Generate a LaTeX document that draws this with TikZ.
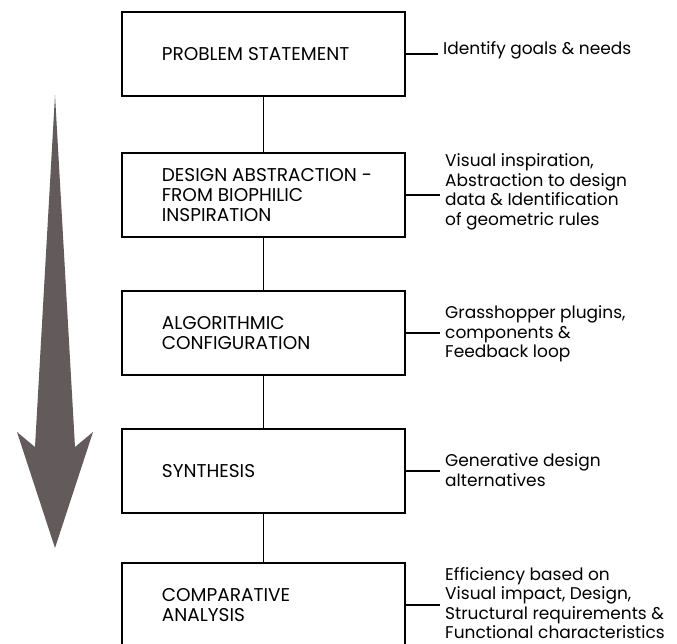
\documentclass[tikz,border=0pt]{standalone}
\usepackage{fontspec}
\setmainfont{Poppins}
\definecolor{arrowgrey}{HTML}{625A5B}
\tikzset{
  stage/.style={draw=black, line width=1.8pt, rectangle, minimum width=283pt, minimum height=84pt,
    text width=203pt, inner xsep=40pt, inner ysep=0pt, align=flush left, anchor=north west,
    font=\fontsize{18.5}{20}\selectfont},
  note/.style={anchor=west, align=left, inner xsep=5pt, inner ysep=0pt,
    font=\fontsize{17}{19.5}\selectfont},
  link/.style={draw=black, line width=1.3pt}
}
\begin{document}
\begin{tikzpicture}[x=1pt,y=-1pt]
\useasboundingbox (0,0) rectangle (677,644);
\clip (0,0) rectangle (677,644);
\fill[arrowgrey] (55,95) -- (75,447) -- (93,432) -- (55,548) -- (17,432) -- (35,447) -- cycle;
\node[stage] (b1) at (121,11) {\mbox{PROBLEM STATEMENT}};
\node[stage] (b2) at (121,152) {\mbox{DESIGN ABSTRACTION -}\\\mbox{FROM BIOPHILIC}\\INSPIRATION};
\node[stage] (b3) at (121,290) {ALGORITHMIC\\CONFIGURATION};
\node[stage] (b4) at (121,428) {SYNTHESIS};
\node[stage] (b5) at (121,562) {COMPARATIVE\\ANALYSIS};
\node[note] (n1) at (438,50) {Identify goals \& needs};
\node[note] (n2) at (440,192) {Visual inspiration,\\Abstraction to design\\data \& Identification\\of geometric rules};
\node[note] (n3) at (440,334) {Grasshopper plugins,\\components \&\\Feedback loop};
\node[note] (n4) at (440,470) {Generative design\\alternatives};
\node[note] (n5) at (440,603) {Efficiency based on\\Visual impact, Design,\\Structural requirements \&\\Functional characteristics};
\draw[link] (b1.south) -- (b2.north);
\draw[link] (b2.south) -- (b3.north);
\draw[link] (b3.south) -- (b4.north);
\draw[link] (b4.south) -- (b5.north);
\draw[link] (b1.east) -- (b1.east -| n1.west);
\draw[link] (b2.east) -- (b2.east -| n2.west);
\draw[link] (b3.east) -- (b3.east -| n3.west);
\draw[link] (b4.east) -- (b4.east -| n4.west);
\draw[link] (b5.east) -- (b5.east -| n5.west);
\end{tikzpicture}
\end{document}
